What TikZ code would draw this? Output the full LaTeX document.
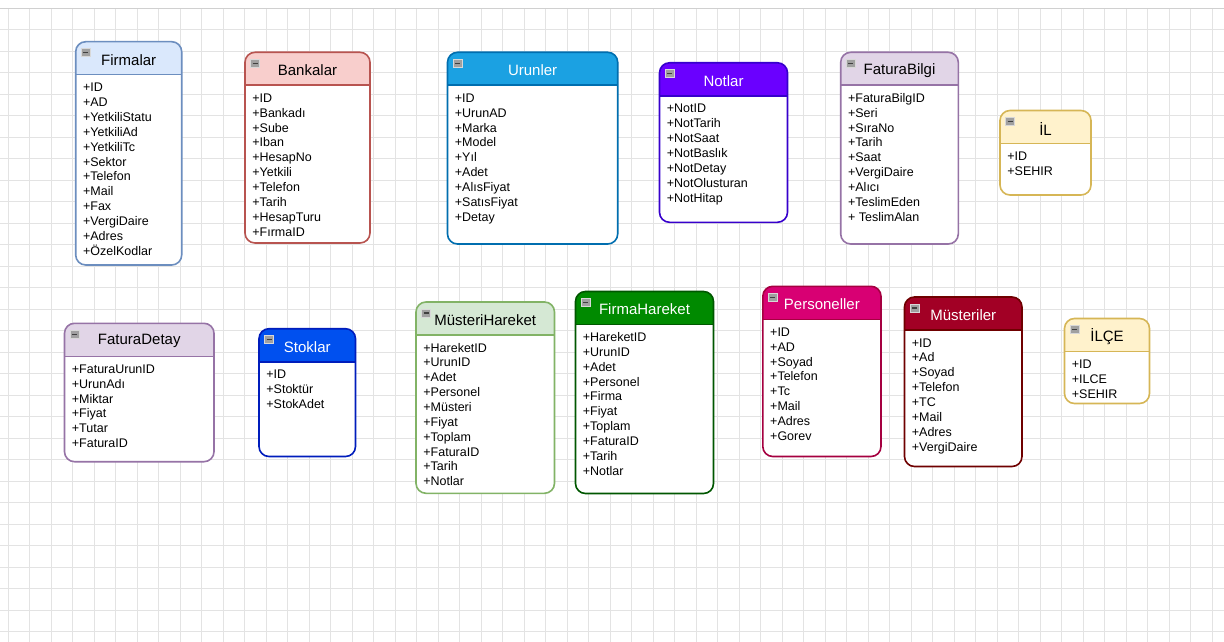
\documentclass[tikz,border=0pt]{standalone}
\usepackage{fontspec}
\setmainfont{Liberation Sans}
\definecolor{firfill}{HTML}{DAE8FC}\definecolor{firline}{HTML}{6C8EBF}\colorlet{firtext}{black}
\definecolor{banfill}{HTML}{F8CECC}\definecolor{banline}{HTML}{B85450}\colorlet{bantext}{black}
\definecolor{urufill}{HTML}{1BA1E2}\definecolor{uruline}{HTML}{006EAF}\colorlet{urutext}{white}
\definecolor{notfill}{HTML}{6A00FF}\definecolor{notline}{HTML}{3700CC}\colorlet{nottext}{white}
\definecolor{fbifill}{HTML}{E1D5E7}\definecolor{fbiline}{HTML}{9673A6}\colorlet{fbitext}{black}
\definecolor{ilfill}{HTML}{FFF2CC}\definecolor{illine}{HTML}{D6B656}\colorlet{iltext}{black}
\definecolor{stofill}{HTML}{0050EF}\definecolor{stoline}{HTML}{001DBC}\colorlet{stotext}{white}
\definecolor{mhafill}{HTML}{D5E8D4}\definecolor{mhaline}{HTML}{82B366}\colorlet{mhatext}{black}
\definecolor{fhafill}{HTML}{008A00}\definecolor{fhaline}{HTML}{005700}\colorlet{fhatext}{white}
\definecolor{perfill}{HTML}{D80073}\definecolor{perline}{HTML}{A50040}\colorlet{pertext}{white}
\definecolor{musfill}{HTML}{A20025}\definecolor{musline}{HTML}{6F0000}\colorlet{mustext}{white}
\definecolor{gridcol}{HTML}{E3E3E3}
\definecolor{barcol}{HTML}{D0D0D0}
\definecolor{iconfill}{HTML}{A0A0A0}
\definecolor{iconline}{HTML}{D8D8D8}
\definecolor{iconminus}{HTML}{404040}
\tikzset{
  gridline/.style={draw=gridcol, line width=0.8pt},
  boxborder/.style={line width=1.6pt, rounded corners=10pt},
  titletext/.style={inner sep=0pt, font=\fontsize{15}{18}\selectfont},
  attrtext/.style={inner sep=0pt, anchor=west, text height=9pt, text depth=2.5pt, font=\fontsize{12.5}{14}\selectfont}
}
\newcommand{\erbox}[8]{%
  \pgfmathsetmacro\erdiv{#3+33}%
  \begin{scope}
    \clip[rounded corners=10pt] (#2,#3) rectangle (#4,#5);
    \fill[white] (#2,#3) rectangle (#4,#5);
    \fill[#6fill] (#2,#3) rectangle (#4,\erdiv);
  \end{scope}
  \draw[boxborder, draw=#6line] (#2,#3) rectangle (#4,#5);
  \draw[line width=1.6pt, draw=#6line] (#2,\erdiv) -- (#4,\erdiv);
  \filldraw[fill=iconfill, draw=iconline, line width=0.6pt] ({#2+5.5},{#3+7}) rectangle ({#2+14.5},{#3+15});
  \draw[iconminus, line width=1.2pt] ({#2+7.5},{#3+11}) -- ({#2+12.5},{#3+11});
  \node[titletext, text=#6text] (#1-title) at ({(#2+#4)/2},{#3+18}) {#7};
  \foreach \t [count=\i] in {#8} {
    \node[attrtext] (#1-a\i) at ({#2+7.2},{\erdiv+13.8+14.86*(\i-1)}) {\t};
  }
}
\begin{document}
\begin{tikzpicture}[x=1pt,y=-1pt]
\useasboundingbox (0,0) rectangle (1224,642);
\fill[white] (0,0) rectangle (1224,642);
\foreach \k in {0,...,56} {\draw[gridline] ({8+21.5*\k},9) -- ({8+21.5*\k},642);}
\foreach \k in {0,...,30} {\draw[gridline] (0,{8+21.5*\k}) -- (1224,{8+21.5*\k});}
\draw[barcol, line width=1pt] (0,8.5) -- (1224,8.5);

\erbox{firmalar}{75.7}{41.7}{181.7}{265}{fir}{Firmalar}{+ID,+AD,+YetkiliStatu,+YetkiliAd,+YetkiliTc,+Sektor,+Telefon,+Mail,+Fax,+VergiDaire,+Adres,+ÖzelKodlar}
\erbox{bankalar}{245}{52.3}{370}{243}{ban}{Bankalar}{+ID,+Bankadı,+Sube,+Iban,+HesapNo,+Yetkili,+Telefon,+Tarih,+HesapTuru,+FırmaID}
\erbox{urunler}{447.5}{52.3}{617.7}{244}{uru}{Urunler}{+ID,+UrunAD,+Marka,+Model,+Yıl,+Adet,+AlısFiyat,+SatısFiyat,+Detay}
\erbox{notlar}{659.5}{62.8}{787.5}{222.3}{not}{Notlar}{+NotID,+NotTarih,+NotSaat,+NotBaslık,+NotDetay,+NotOlusturan,+NotHitap}
\erbox{faturabilgi}{840.7}{52.3}{958.3}{244}{fbi}{FaturaBilgi}{+FaturaBilgID,+Seri,+SıraNo,+Tarih,+Saat,+VergiDaire,+Alıcı,+TeslimEden,+ TeslimAlan}
\erbox{il}{1000}{110.5}{1091}{195}{il}{İL}{+ID,+SEHIR}
\erbox{faturadetay}{64.5}{323.3}{214}{461.7}{fbi}{FaturaDetay}{+FaturaUrunID,+UrunAdı,+Miktar,+Fiyat,+Tutar,+FaturaID}
\erbox{stoklar}{259}{328.7}{355.5}{456.5}{sto}{Stoklar}{+ID,+Stoktür,+StokAdet}
\erbox{musterihareket}{416}{302}{554.5}{493.3}{mha}{MüsteriHareket}{+HareketID,+UrunID,+Adet,+Personel,+Müsteri,+Fiyat,+Toplam,+FaturaID,+Tarih,+Notlar}
\erbox{firmahareket}{575.5}{291.5}{713.5}{493.5}{fha}{FirmaHareket}{+HareketID,+UrunID,+Adet,+Personel,+Firma,+Fiyat,+Toplam,+FaturaID,+Tarih,+Notlar}
\erbox{personeller}{762.8}{286.3}{881}{456.5}{per}{Personeller}{+ID,+AD,+Soyad,+Telefon,+Tc,+Mail,+Adres,+Gorev}
\erbox{musteriler}{904.5}{297}{1022}{466.5}{mus}{Müsteriler}{+ID,+Ad,+Soyad,+Telefon,+TC,+Mail,+Adres,+VergiDaire}
\erbox{ilce}{1064.5}{318.5}{1149.5}{403.5}{il}{İLÇE}{+ID,+ILCE,+SEHIR}
\end{tikzpicture}
\end{document}
